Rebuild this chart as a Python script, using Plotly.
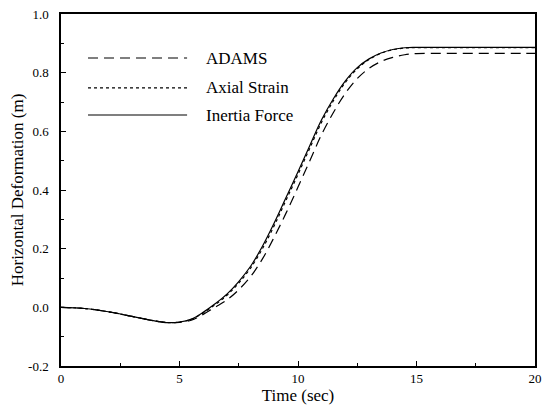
import plotly.graph_objects as go

time = [0, 1, 2, 3, 4, 4.5, 5, 5.5, 6, 6.5, 7, 7.5, 8, 8.5, 9, 9.5, 10, 10.5,
        11, 11.5, 12, 12.5, 13, 13.5, 14, 14.5, 15, 16, 17, 18, 19, 20]
inertia = [0, -0.004, -0.015, -0.031, -0.047, -0.052, -0.050, -0.040, -0.017, 0.012,
           0.045, 0.088, 0.140, 0.208, 0.288, 0.375, 0.462, 0.552, 0.640, 0.712,
           0.772, 0.817, 0.847, 0.867, 0.879, 0.885, 0.886, 0.886, 0.886, 0.886, 0.886, 0.886]
axial = [0, -0.004, -0.015, -0.031, -0.047, -0.052, -0.050, -0.041, -0.019, 0.009,
         0.041, 0.083, 0.134, 0.200, 0.279, 0.366, 0.453, 0.543, 0.632, 0.705,
         0.767, 0.813, 0.845, 0.866, 0.878, 0.884, 0.885, 0.885, 0.885, 0.885, 0.885, 0.885]
adams = [0, -0.004, -0.015, -0.031, -0.047, -0.052, -0.051, -0.044, -0.024, 0.000,
         0.025, 0.060, 0.105, 0.165, 0.240, 0.322, 0.410, 0.500, 0.590, 0.665,
         0.730, 0.780, 0.815, 0.838, 0.852, 0.861, 0.865, 0.866, 0.866, 0.866, 0.866, 0.866]

series_names = ["ADAMS", "Axial Strain", "Inertia Force"]
series_dash = ["10px,6px", "3px,3px", "solid"]
series_vals = [adams, axial, inertia]

x_ticks = [0, 5, 10, 15, 20]
y_ticks = [-0.2, 0.0, 0.2, 0.4, 0.6, 0.8, 1.0]
y_ticklabels = ["-0.2", "0.0", "0.2", "0.4", "0.6", "0.8", "1.0"]

FONT = "Liberation Serif, Times New Roman, serif"

fig = go.Figure()
for name, dash, vals in zip(series_names, series_dash, series_vals):
    fig.add_trace(go.Scatter(x=time, y=vals, mode="lines", name=name,
                             line=dict(color="black", width=1.2, dash=dash, shape="spline"),
                             showlegend=False))

# manual legend (long line samples like the reference)
leg_y = [0.875, 0.790, 0.713]
for name, dash, ly in zip(series_names, series_dash, leg_y):
    fig.add_shape(type="line", xref="paper", yref="paper", x0=0.057, x1=0.266, y0=ly, y1=ly,
                  line=dict(color="black", width=1.2, dash=dash))
    fig.add_annotation(xref="paper", yref="paper", x=0.302, y=ly, text=name, showarrow=False,
                       xanchor="left", yanchor="middle", font=dict(family=FONT, size=17, color="black"))

axis_common = dict(showline=True, linecolor="black", linewidth=1.5, mirror=True,
                   ticks="inside", tickcolor="black", ticklen=5, tickwidth=1,
                   showgrid=False, zeroline=False, automargin=False,
                   ticklabeloverflow="allow",
                   tickfont=dict(family=FONT, size=13, color="black"))

fig.update_xaxes(range=[0, 20], tickvals=x_ticks,
                 minor=dict(ticks="inside", ticklen=3, tickcolor="black", dtick=2.5, tick0=0),
                 title=dict(text="Time (sec)", font=dict(family=FONT, size=17, color="black"), standoff=0),
                 **axis_common)
fig.update_yaxes(range=[-0.2, 1.0], tickvals=y_ticks, ticktext=y_ticklabels,
                 minor=dict(ticks="inside", ticklen=3, tickcolor="black", dtick=0.1, tick0=0),
                 title=dict(text="Horizontal Deformation (m)", font=dict(family=FONT, size=17, color="black"), standoff=0),
                 ticklabelstandoff=8,
                 **axis_common)

fig.update_layout(width=543, height=409, margin=dict(l=61, r=8, t=14, b=43),
                  paper_bgcolor="white", plot_bgcolor="white",
                  font=dict(family=FONT, color="black"))

# remove the default page margin so the figure fills the window exactly
fig.write_html("out.html", config={"displayModeBar": False},
               post_script="document.body.style.margin='0';document.body.style.overflow='hidden';")
